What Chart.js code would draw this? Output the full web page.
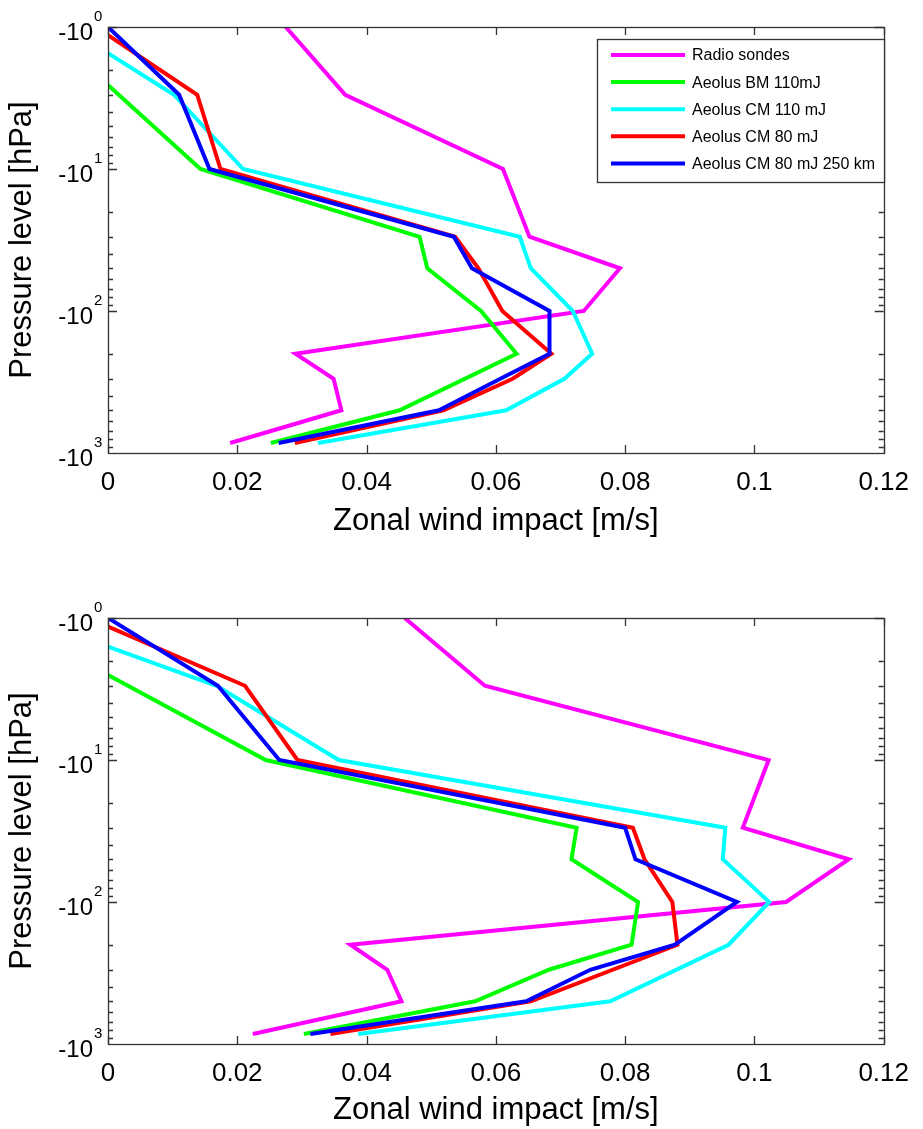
<!DOCTYPE html>
<html><head><meta charset="utf-8">
<script src="https://cdn.jsdelivr.net/npm/chart.js@4/dist/chart.umd.min.js"></script>
<style>
html,body{margin:0;padding:0;background:#fff;width:923px;height:1129px;overflow:hidden}
.panel{position:absolute;left:0;width:923px}
#p1{top:0;height:560px}
#p2{top:560px;height:569px}
canvas{display:block}
</style></head><body>
<div class="panel" id="p1"><canvas id="c1"></canvas></div>
<div class="panel" id="p2"><canvas id="c2"></canvas></div>
<script>
// ---- labels / ticks ----
const seriesNames = ['Radio sondes', 'Aeolus BM 110mJ', 'Aeolus CM 110 mJ', 'Aeolus CM 80 mJ', 'Aeolus CM 80 mJ 250 km'];
const seriesColors = ['#ff00ff', '#00ff00', '#00ffff', '#ff0000', '#0000ff'];
const xTicks = [0, 0.02, 0.04, 0.06, 0.08, 0.1, 0.12];
const xTickLabels = ['0', '0.02', '0.04', '0.06', '0.08', '0.1', '0.12'];
const yTicks = [1, 10, 100, 1000];
const yTickBase = '-10';
const yTickExp = ['0', '1', '2', '3'];
const xTitle = 'Zonal wind impact [m/s]';
const yTitle = 'Pressure level [hPa]';

// ---- top panel data (pressure hPa, impact m/s) ----
const topRadioP = [1, 3, 10, 30, 50, 100, 200, 300, 500, 850];
const topRadioV = [0.0275, 0.0367, 0.0611, 0.0652, 0.0792, 0.0736, 0.0290, 0.0349, 0.0361, 0.0189];
const topBM110P = [2.56, 10, 30, 50, 100, 200, 500, 850];
const topBM110V = [0, 0.0143, 0.0482, 0.0494, 0.0577, 0.0632, 0.0451, 0.0252];
const topCM110P = [1.53, 3, 10, 30, 50, 100, 200, 300, 500, 850];
const topCM110V = [0, 0.0102, 0.0209, 0.0637, 0.0654, 0.0719, 0.0749, 0.0706, 0.0616, 0.0325];
const topCM80P = [1.14, 3, 10, 30, 50, 100, 200, 300, 500, 850];
const topCM80V = [0, 0.0138, 0.0174, 0.0537, 0.0573, 0.0610, 0.0686, 0.0626, 0.0519, 0.0289];
const topCM80kmP = [1, 3, 10, 30, 50, 100, 200, 300, 500, 850];
const topCM80kmV = [0, 0.0110, 0.0157, 0.0535, 0.0563, 0.0683, 0.0683, 0.0607, 0.0512, 0.0264];

// ---- bottom panel data ----
const botRadioP = [1, 3, 10, 30, 50, 100, 200, 300, 500, 850];
const botRadioV = [0.0459, 0.0583, 0.1022, 0.0982, 0.1146, 0.1049, 0.0375, 0.0432, 0.0454, 0.0224];
const botBM110P = [2.52, 10, 30, 50, 100, 200, 300, 500, 850];
const botBM110V = [0, 0.0244, 0.0725, 0.0717, 0.0820, 0.0810, 0.0682, 0.0568, 0.0303];
const botCM110P = [1.59, 3, 10, 30, 50, 100, 200, 500, 850];
const botCM110V = [0, 0.0168, 0.0357, 0.0955, 0.0951, 0.1023, 0.0960, 0.0777, 0.0387];
const botCM80P = [1.15, 3, 10, 30, 50, 100, 200, 500, 850];
const botCM80V = [0, 0.0212, 0.0293, 0.0812, 0.0830, 0.0873, 0.0881, 0.0654, 0.0344];
const botCM80kmP = [1, 3, 10, 30, 50, 100, 200, 300, 500, 850];
const botCM80kmV = [0, 0.0170, 0.0265, 0.0800, 0.0816, 0.0973, 0.0877, 0.0746, 0.0647, 0.0313];

const FONT = "'Liberation Sans', Arial, Helvetica, sans-serif";

function pts(P, V) { return P.map((p, i) => ({ x: V[i], y: p })); }

function makeDatasets(list) {
  return list.map((pv, i) => ({
    label: seriesNames[i],
    data: pts(pv[0], pv[1]),
    borderColor: seriesColors[i],
    backgroundColor: seriesColors[i],
    borderWidth: 4,
    pointRadius: 0,
    pointHoverRadius: 0,
    tension: 0,
    fill: false,
    clip: 0,
    order: 5 - i,
    borderJoinStyle: 'miter',
    borderCapStyle: 'butt'
  }));
}

const framePlugin = {
  id: 'frame',
  afterDatasetsDraw(chart, args, opts) {
    const { ctx, chartArea: a, scales: { x, y } } = chart;
    ctx.save();
    ctx.strokeStyle = '#333';
    ctx.lineWidth = 1.3;
    ctx.beginPath();
    xTicks.forEach(v => {
      const px = Math.round(x.getPixelForValue(v)) + 0.5;
      ctx.moveTo(px, a.bottom); ctx.lineTo(px, a.bottom - 8);
      ctx.moveTo(px, a.top); ctx.lineTo(px, a.top + 8);
    });
    [1, 10, 100].forEach(d => {
      for (let k = 1; k <= 9; k++) {
        const py = Math.round(y.getPixelForValue(d * k)) + 0.5;
        const len = k === 1 ? 9 : 5;
        ctx.moveTo(a.left, py); ctx.lineTo(a.left + len, py);
        ctx.moveTo(a.right, py); ctx.lineTo(a.right - len, py);
      }
    });
    ctx.stroke();
    ctx.strokeRect(Math.round(a.left) + 0.5, Math.round(a.top) + 0.5, Math.round(a.width), Math.round(a.height));

    // y tick labels: -10 with superscript exponent
    ctx.fillStyle = '#000';
    yTicks.forEach((v, i) => {
      const py = y.getPixelForValue(v);
      ctx.font = '24px ' + FONT;
      ctx.textAlign = 'right';
      ctx.textBaseline = 'middle';
      ctx.fillText(yTickBase, a.left - 15, py + 6);
      ctx.font = '15px ' + FONT;
      ctx.textAlign = 'left';
      ctx.fillText(yTickExp[i], a.left - 14, py - 10);
    });

    if (opts && opts.legend) {
      const L = 597, T = 39, R = 884, B = 182;
      ctx.fillStyle = '#fff';
      ctx.fillRect(L, T, R - L, B - T);
      ctx.strokeStyle = '#333';
      ctx.lineWidth = 1.3;
      ctx.strokeRect(L + 0.5, T + 0.5, R - L, B - T);
      seriesNames.forEach((n, i) => {
        const yy = 55 + i * 27.1;
        ctx.strokeStyle = seriesColors[i];
        ctx.lineWidth = 4;
        ctx.beginPath(); ctx.moveTo(611, yy); ctx.lineTo(685, yy); ctx.stroke();
        ctx.fillStyle = '#000';
        ctx.font = '16px ' + FONT;
        ctx.textAlign = 'left';
        ctx.textBaseline = 'middle';
        ctx.fillText(n, 692, yy + 1);
      });
    }
    ctx.restore();
  }
};

function makeChart(id, datasets, cfg) {
  return new Chart(document.getElementById(id), {
    type: 'line',
    data: { datasets },
    options: {
      responsive: true,
      maintainAspectRatio: false,
      animation: false,
      devicePixelRatio: 1,
      layout: { padding: { left: 0, right: 29, top: cfg.top, bottom: 0 } },
      plugins: { legend: { display: false }, tooltip: { enabled: false }, frame: { legend: cfg.legend } },
      scales: {
        x: {
          type: 'linear', position: 'bottom', min: 0, max: 0.12,
          afterBuildTicks: s => { s.ticks = xTicks.map(v => ({ value: v })); },
          afterFit: s => { s.height = cfg.xh; },
          ticks: { callback: (v, i) => xTickLabels[i], font: { family: FONT, size: 26 }, color: '#000', padding: 14, maxRotation: 0, autoSkip: false },
          grid: { display: false, drawTicks: false },
          border: { display: false },
          title: { display: true, text: xTitle, color: '#000', font: { family: FONT, size: 31, lineHeight: 1.0 }, padding: { top: 0, bottom: cfg.xtp } }
        },
        y: {
          type: 'logarithmic', position: 'left', min: 1, max: 1000, reverse: true,
          afterBuildTicks: s => { s.ticks = yTicks.map(v => ({ value: v })); },
          afterFit: s => { s.width = 108; },
          ticks: { display: false },
          grid: { display: false, drawTicks: false },
          border: { display: false },
          title: { display: true, text: yTitle, color: '#000', font: { family: FONT, size: 31, lineHeight: 1.2 }, padding: { top: 4, bottom: 0 } }
        }
      }
    },
    plugins: [framePlugin]
  });
}

makeChart('c1', makeDatasets([[topRadioP, topRadioV], [topBM110P, topBM110V], [topCM110P, topCM110V], [topCM80P, topCM80V], [topCM80kmP, topCM80kmV]]),
  { top: 27, xh: 107, xtp: 23.5, legend: true });
makeChart('c2', makeDatasets([[botRadioP, botRadioV], [botBM110P, botBM110V], [botCM110P, botCM110V], [botCM80P, botCM80V], [botCM80kmP, botCM80kmV]]),
  { top: 58, xh: 85, xtp: 3.5, legend: false });
</script>
</body></html>
